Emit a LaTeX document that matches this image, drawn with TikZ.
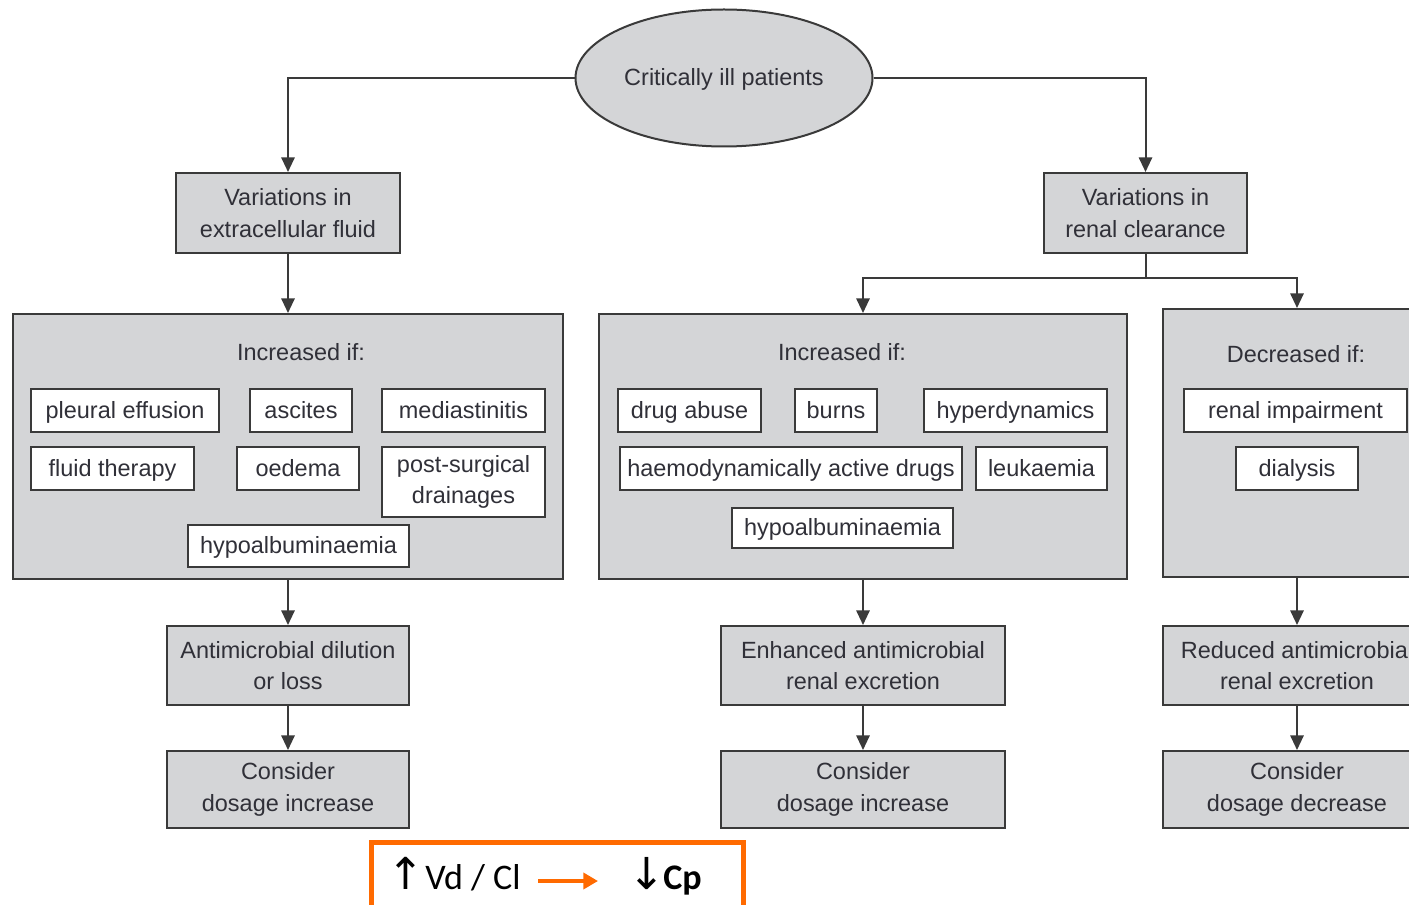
\documentclass[tikz,border=0pt]{standalone}
\usepackage{fontspec}
\setmainfont{Liberation Sans}
\newfontfamily\calib{Carlito}
\newfontfamily\dejavu{DejaVu Sans}
\usetikzlibrary{shapes.geometric,arrows.meta}
\definecolor{boxgray}{HTML}{D4D5D7}
\definecolor{edge}{HTML}{3A3A3A}
\definecolor{txt}{HTML}{303038}
\definecolor{orng}{HTML}{FF6A00}
\newcommand\pxu{0.75pt}
\tikzset{
  graybox/.style={draw=edge, fill=boxgray, line width=1.5pt},
  whitebox/.style={draw=edge, fill=white, line width=1.5pt},
  arr/.style={draw=edge, line width=1.5pt, -{Triangle[width=10pt,length=11pt]}},
  ln/.style={draw=edge, line width=1.5pt},
  oneline/.style={text height=15.5pt, text depth=3.7pt},
  rowbox/.style={oneline, minimum height=43*\pxu}
}
\begin{document}
\begin{tikzpicture}[x=0.75pt,y=-0.75pt,
  every node/.style={font=\fontsize{17.6}{23.5}\selectfont, text=txt, align=center, inner sep=0pt}]
\useasboundingbox (0,0) rectangle (1409,905);
\clip (0,0) rectangle (1409,905);
\fill[white] (0,0) rectangle (1409,905);

% top level
\node[ellipse, graybox, oneline, minimum width=297*\pxu, minimum height=137*\pxu] (top) at (724,78) {Critically ill patients};
\node[graybox, minimum width=224*\pxu, minimum height=80*\pxu] (ecf) at (288,213) {Variations in\\extracellular fluid};
\node[graybox, minimum width=203*\pxu, minimum height=80*\pxu] (rc) at (1145.5,213) {Variations in\\renal clearance};

% big boxes
\node[graybox, minimum width=550*\pxu, minimum height=265*\pxu] (lbig) at (288,446.5) {};
\node[graybox, minimum width=528*\pxu, minimum height=265*\pxu] (mbig) at (863,446.5) {};
\node[graybox, minimum width=268*\pxu, minimum height=268*\pxu] (rbig) at (1297,443) {};

\node[oneline] (linc) at (301,353) {Increased if:};
\node[oneline] (minc) at (842,353) {Increased if:};
\node[oneline] (rdec) at (1296,355) {Decreased if:};

% left items
\node[whitebox, rowbox, minimum width=188*\pxu] (l1) at (125,410.5) {pleural effusion};
\node[whitebox, rowbox, minimum width=102*\pxu] (l2) at (301,410.5) {ascites};
\node[whitebox, rowbox, minimum width=163*\pxu] (l3) at (463.5,410.5) {mediastinitis};
\node[whitebox, rowbox, minimum width=163*\pxu] (l4) at (112.5,468.5) {fluid therapy};
\node[whitebox, rowbox, minimum width=122*\pxu] (l5) at (298,468.5) {oedema};
\node[whitebox, minimum width=163*\pxu, minimum height=70*\pxu] (l6) at (463.5,482) {post-surgical\\drainages};
\node[whitebox, oneline, minimum width=221*\pxu, minimum height=42*\pxu] (l7) at (298.5,546) {hypoalbuminaemia};

% middle items
\node[whitebox, rowbox, minimum width=143*\pxu] (m1) at (689.5,410.5) {drug abuse};
\node[whitebox, rowbox, minimum width=82*\pxu] (m2) at (836,410.5) {burns};
\node[whitebox, rowbox, minimum width=183*\pxu] (m3) at (1015.5,410.5) {hyperdynamics};
\node[whitebox, rowbox, minimum width=342*\pxu] (m4) at (791,468.5) {haemodynamically active drugs};
\node[whitebox, rowbox, minimum width=131*\pxu] (m5) at (1041.5,468.5) {leukaemia};
\node[whitebox, oneline, minimum width=221*\pxu, minimum height=40*\pxu] (m6) at (842.5,528) {hypoalbuminaemia};

% right items
\node[whitebox, rowbox, minimum width=223*\pxu] (r1) at (1295.5,410.5) {renal impairment};
\node[whitebox, rowbox, minimum width=122*\pxu] (r2) at (1297,468.5) {dialysis};

% lower boxes
\node[graybox, minimum width=242*\pxu, minimum height=79*\pxu] (ldil) at (288,665.5) {Antimicrobial dilution\\or loss};
\node[graybox, minimum width=242*\pxu, minimum height=77*\pxu] (lcon) at (288,789.5) {Consider\\dosage increase};
\node[graybox, minimum width=284*\pxu, minimum height=79*\pxu] (menh) at (863,665.5) {Enhanced antimicrobial\\renal excretion};
\node[graybox, minimum width=284*\pxu, minimum height=77*\pxu] (mcon) at (863,789.5) {Consider\\dosage increase};
\node[graybox, minimum width=268*\pxu, minimum height=79*\pxu] (rred) at (1297,665.5) {Reduced antimicrobial\\renal excretion};
\node[graybox, minimum width=268*\pxu, minimum height=77*\pxu] (rcon) at (1297,789.5) {Consider\\dosage decrease};

% connectors
\draw[arr] (top.west) -| (ecf.north);
\draw[arr] (top.east) -| (rc.north);
\draw[arr] (ecf.south) -- (lbig.north);
\coordinate (split) at (1145.5,278);
\draw[ln] (rc.south) -- (split);
\draw[arr] (split) -| (mbig.north);
\draw[arr] (split) -| (rbig.north);
\draw[arr] (lbig.south) -- (ldil.north);
\draw[arr] (ldil.south) -- (lcon.north);
\draw[arr] (mbig.south) -- (menh.north);
\draw[arr] (menh.south) -- (mcon.north);
\draw[arr] (rbig.south) -- (rred.north);
\draw[arr] (rred.south) -- (rcon.north);

% orange box
\node[draw=orng, line width=3.75pt, minimum width=372*\pxu, minimum height=66*\pxu] (ob) at (557,875) {};
\node[anchor=base west, text=black, font=\dejavu\fontsize{33}{36}\selectfont] (up) at (387,889) {↑};
\node[anchor=base west, text=black, font=\calib\fontsize{27}{30}\selectfont] (vdcl) at (425,889) {Vd / Cl};
\node[anchor=base west, text=black, font=\dejavu\fontsize{33}{36}\selectfont] (dn) at (628,889) {↓};
\node[anchor=base west, text=black, font=\calib\bfseries\fontsize{27}{30}\selectfont] (cp) at (663,889) {Cp};
\coordinate (a1) at (538,881);
\coordinate (a2) at (598,881);
\draw[orng, line width=3pt, -{Triangle[width=12pt,length=11pt]}] (a1) -- (a2);
\end{tikzpicture}
\end{document}
